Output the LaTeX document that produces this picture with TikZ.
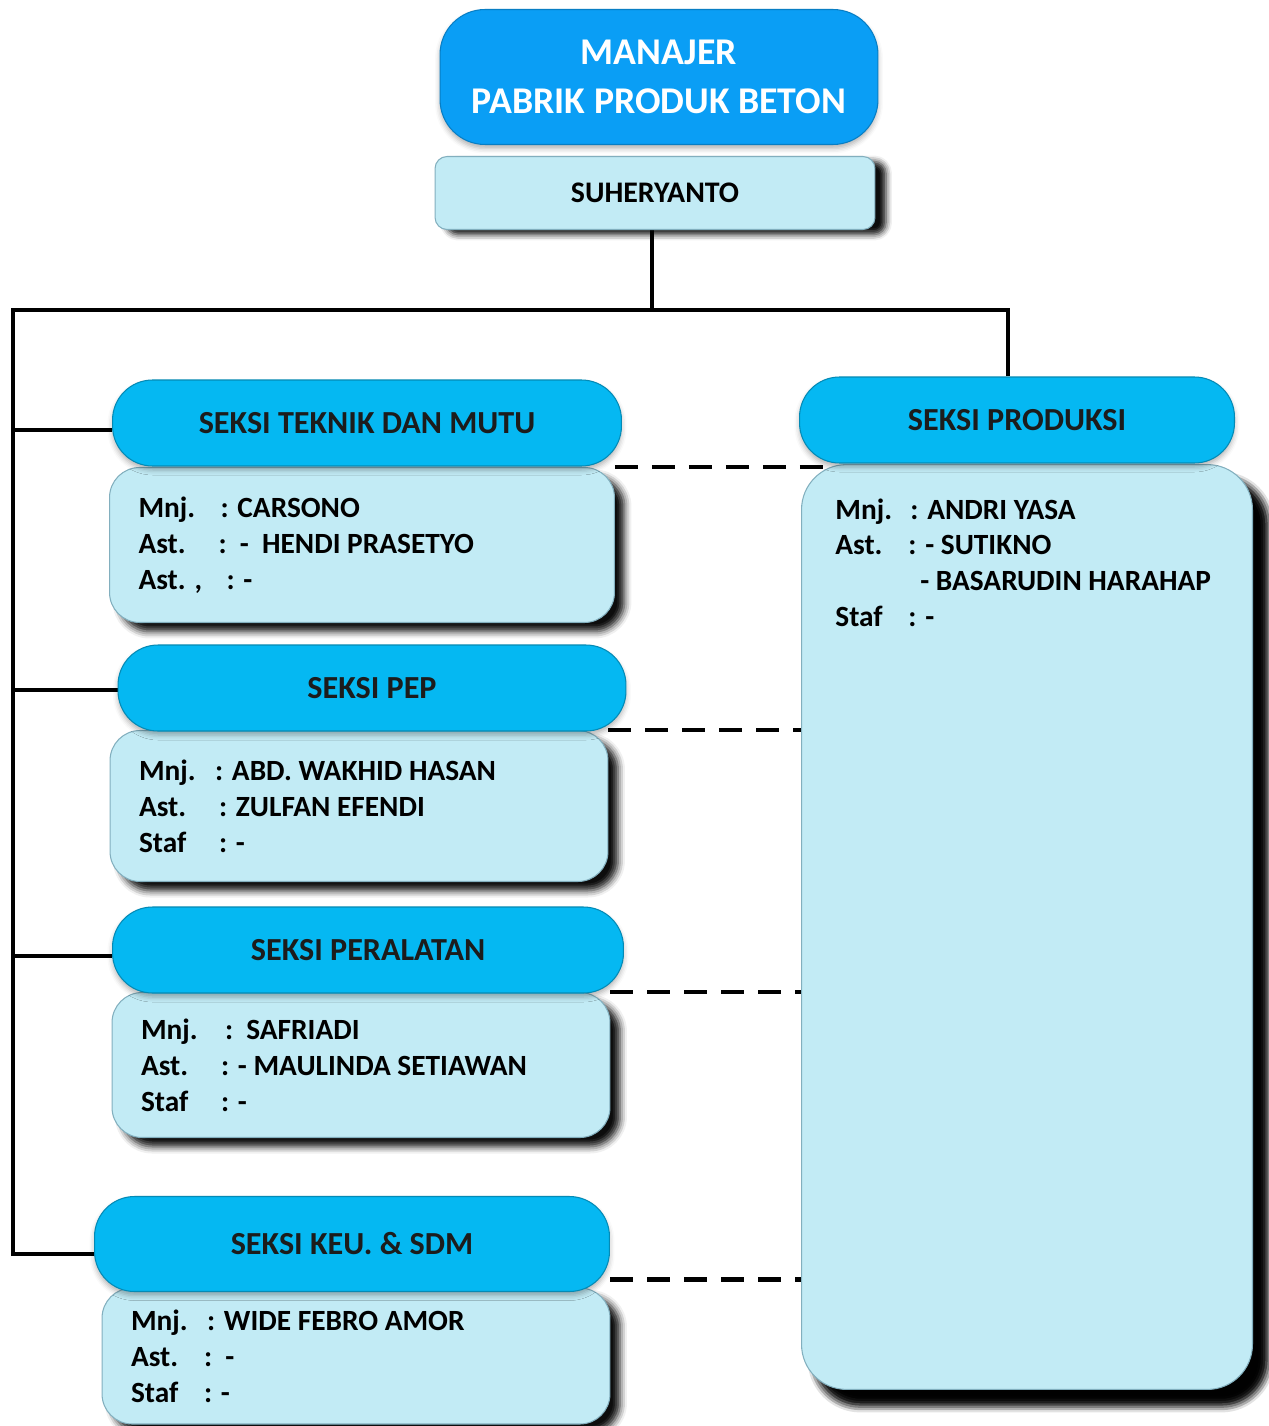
\documentclass[tikz,border=0pt]{standalone}
\usepackage{fontspec}
\setmainfont{Carlito}
\usetikzlibrary{positioning,shadows,shadows.blur,backgrounds}
\definecolor{bossblue}{RGB}{10,158,245}
\definecolor{sectblue}{RGB}{5,184,242}
\definecolor{pale}{RGB}{194,235,245}
\definecolor{rim}{RGB}{130,175,190}
\definecolor{ink}{RGB}{28,28,28}
\tikzset{
  topbox/.style={rounded corners=0.9cm,fill=bossblue,draw=bossblue!80!black,line width=0.6pt,
    text=white,font=\fontsize{21.5}{28}\selectfont\bfseries,align=flush center,
    minimum width=8.76cm,minimum height=2.7cm,
    blur shadow={shadow xshift=0pt,shadow yshift=-0.08cm,shadow blur radius=0.1cm,shadow opacity=30}},
  namebox/.style={rounded corners=0.24cm,fill=pale,draw=rim,line width=0.6pt,
    font=\fontsize{17}{20}\selectfont\bfseries,minimum width=8.8cm,minimum height=1.46cm,
    blur shadow={shadow xshift=0.22cm,shadow yshift=-0.1cm,shadow blur radius=0.12cm,shadow opacity=95}},
  secbox/.style={rounded corners=0.8cm,fill=sectblue,draw=sectblue!75!black,line width=0.6pt,
    text=ink,font=\fontsize{18.3}{21}\selectfont\bfseries,minimum height=1.72cm,
    blur shadow={shadow xshift=0pt,shadow yshift=-0.08cm,shadow blur radius=0.1cm,shadow opacity=30}},
  infobox/.style={rounded corners=0.6cm,fill=pale,draw=rim,line width=0.6pt,
    font=\fontsize{16.7}{20.4}\selectfont\bfseries,align=flush left,inner xsep=0.58cm,
    blur shadow={shadow xshift=0.2cm,shadow yshift=-0.18cm,shadow blur radius=0.14cm,shadow opacity=95}},
  infotext/.style={font=\fontsize{16.7}{20.4}\selectfont\bfseries,align=flush left,inner sep=0pt},
  wire/.style={line width=2.3pt,black},
  dashlink/.style={line width=2.8pt,black,dash pattern=on 0.46cm off 0.28cm},
}
\newcommand{\fld}[2][1.62cm]{\makebox[#1][l]{#2}}

\begin{document}
\begin{tikzpicture}[x=0.02cm,y=-0.02cm]
  \useasboundingbox (0,0) rectangle (1268,1426);
  % top
  \node[namebox] (suh) at (655,193) {SUHERYANTO};
  \node[topbox] (mgr) at (659,77) {MANAJER\\PABRIK PRODUK BETON};
  % detail boxes
  \node[infobox,text width=8.94cm,minimum height=3.1cm] (dtek) at (362,545)
    {\fld[1.64cm]{Mnj.}: CARSONO\\ \fld[1.6cm]{Ast.}:\ \ -\ \ HENDI PRASETYO\\ \fld[1.76cm]{Ast. ,}: -};
  \node[infobox,text width=8.8cm,minimum height=3.02cm] (dpep) at (359,806)
    {\fld[1.52cm]{Mnj.}: ABD. WAKHID HASAN\\ \fld[1.6cm]{Ast.}: ZULFAN EFENDI\\ \fld[1.6cm]{Staf}: -};
  \node[infobox,text width=8.8cm,minimum height=2.9cm] (dalat) at (361,1065)
    {\fld[1.68cm]{Mnj.}:\ \ SAFRIADI\\ \fld[1.6cm]{Ast.}: - MAULINDA SETIAWAN\\ \fld[1.6cm]{Staf}: -};
  \node[infobox,text width=9.0cm,minimum height=2.72cm] (dkeu) at (356,1356)
    {\fld[1.52cm]{Mnj.}: WIDE FEBRO AMOR\\ \fld[1.46cm]{Ast.}:\ \ -\\ \fld[1.46cm]{Staf}: -};
  \node[infobox,minimum width=9.02cm,minimum height=18.5cm,rounded corners=0.9cm,
    blur shadow={shadow xshift=0.28cm,shadow yshift=-0.3cm,shadow blur radius=0.16cm,shadow opacity=95}] (dprod) at (1027,927) {};
  \node[infotext,anchor=north west] (ptxt) at ([xshift=0.68cm,yshift=-0.68cm]dprod.north west)
    {\fld[1.5cm]{Mnj.}: ANDRI YASA\\ \fld[1.46cm]{Ast.}: - SUTIKNO\\
     \hspace*{1.7cm}- BASARUDIN HARAHAP\\ \fld[1.46cm]{Staf}: -};
  % section headers
  \node[secbox,minimum width=10.18cm] (tek) at (367,423) {SEKSI TEKNIK DAN MUTU};
  \node[secbox,minimum width=10.16cm] (pep) at (372,688) {SEKSI PEP};
  \node[secbox,minimum width=10.22cm] (alat) at (368,950) {SEKSI PERALATAN};
  \node[secbox,minimum width=10.3cm,minimum height=1.9cm] (keu) at (352,1244) {SEKSI KEU. \& SDM};
  \node[secbox,minimum width=8.7cm] (prod) at (1017,420) {SEKSI PRODUKSI};
  % lines
  \begin{scope}[on background layer]
    \coordinate (corner) at (13,310);
    \draw[wire] ([xshift=-0.06cm]suh.south) -- ([xshift=-0.06cm]suh.south |- corner);
    \draw[wire] ([xshift=-0.18cm]prod.north) |- (corner) |- ([yshift=-0.2cm]keu.west);
    \foreach \s/\d in {tek/-0.14cm,pep/-0.04cm,alat/-0.12cm}
      \draw[wire] ([yshift=\d]corner |- \s.west) -- ([yshift=\d]\s.west);
    \draw[dashlink] (dtek.north east) -- ++(215,0);
    \draw[dashlink] (dpep.north east) -- (dpep.north east -| dprod.west);
    \draw[dashlink] (dalat.north east) -- (dalat.north east -| dprod.west);
    \draw[dashlink] ([yshift=0.16cm]dkeu.north east) coordinate (k) -- (k -| dprod.west);
  \end{scope}
\end{tikzpicture}
\end{document}
